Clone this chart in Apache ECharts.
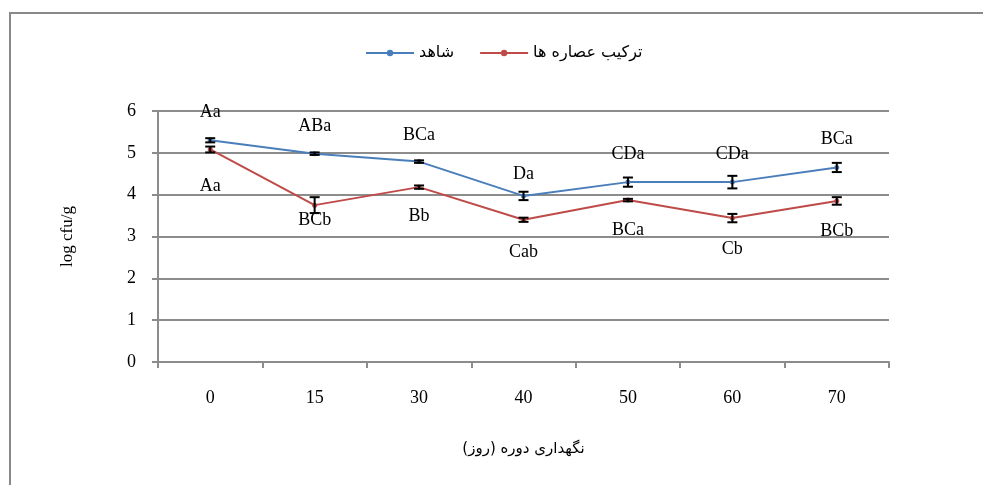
<!DOCTYPE html>
<html>
<head>
<meta charset="utf-8">
<script src="https://cdn.jsdelivr.net/npm/echarts@6/dist/echarts.min.js"></script>
<style>
    html, body { margin: 0; padding: 0; background: #fff; }
    #chart { width: 983px; height: 485px; }
</style>
</head>
<body>
<div id="chart"></div>
<script>
// data
const days = ['0', '15', '30', '40', '50', '60', '70'];
const controlName = 'شاهد';
const extractName = 'ترکیب عصاره ها';
const controlValues = [5.3, 4.98, 4.79, 3.97, 4.3, 4.3, 4.65];
const controlErrors = [0.05, 0.03, 0.03, 0.1, 0.11, 0.15, 0.11];
const controlLetters = ['Aa', 'ABa', 'BCa', 'Da', 'CDa', 'CDa', 'BCa'];
const extractValues = [5.08, 3.75, 4.18, 3.4, 3.87, 3.44, 3.85];
const extractErrors = [0.07, 0.19, 0.04, 0.05, 0.03, 0.1, 0.09];
const extractLetters = ['Aa', 'BCb', 'Bb', 'Cab', 'BCa', 'Cb', 'BCb'];
const yTicks = [0, 1, 2, 3, 4, 5, 6];

// label distances (style only)
const controlLabelGap = [17, 16, 15, 10, 16, 16, 17];
const extractLabelGap = [25, 4, 18, 21, 19, 20, 19];

const serif = '"Liberation Serif", "DejaVu Serif", serif';
const sans = '"DejaVu Sans", "Noto Sans", sans-serif';
const gridColor = '#8c8c8c';

const lineData = (values, letters, gaps, pos) =>
    values.map((v, i) => ({
        value: v,
        label: { show: true, formatter: letters[i], position: pos, distance: gaps[i] },
    }));

const errorSeries = (values, errors) => ({
    type: 'custom',
    silent: true,
    z: 5,
    data: values.map((v, i) => [i, v - errors[i], v + errors[i]]),
    renderItem: (params, api) => {
        const lo = api.coord([api.value(0), api.value(1)]);
        const hi = api.coord([api.value(0), api.value(2)]);
        const w = 5;
        const style = { stroke: '#000', lineWidth: 2 };
        return {
            type: 'group',
            children: [
                { type: 'line', shape: { x1: lo[0], y1: lo[1], x2: hi[0], y2: hi[1] }, style },
                { type: 'line', shape: { x1: lo[0] - w, y1: lo[1], x2: lo[0] + w, y2: lo[1] }, style },
                { type: 'line', shape: { x1: hi[0] - w, y1: hi[1], x2: hi[0] + w, y2: hi[1] }, style },
            ],
        };
    },
});

const myChart = echarts.init(document.getElementById('chart'));
myChart.setOption({
    animation: false,
    backgroundColor: '#fff',
    color: ['#4a7ebb', '#be4b48'],
    graphic: [
        {
            type: 'rect',
            shape: { x: 10, y: 13, width: 1100, height: 600 },
            style: { fill: 'none', stroke: '#888', lineWidth: 2 },
            silent: true,
        },
    ],
    legend: {
        data: [controlName, extractName],
        left: 360,
        top: 40,
        itemWidth: 48,
        itemHeight: 8,
        itemGap: 25,
        textStyle: { fontFamily: sans, fontSize: 16, color: '#000' },
    },
    grid: { left: 158, right: 94, top: 111, bottom: 123 },
    xAxis: {
        type: 'category',
        data: days,
        boundaryGap: true,
        // LRM marks keep the word order the way the original figure shows it
        name: '(روز)\u200E \u200Eدوره\u200E \u200Eنگهداری',
        nameLocation: 'middle',
        nameGap: 80,
        nameTextStyle: { fontFamily: sans, fontSize: 15, color: '#000' },
        axisLine: { lineStyle: { color: gridColor, width: 2 } },
        axisTick: { show: true, length: 6, lineStyle: { color: gridColor, width: 2 } },
        axisLabel: { fontFamily: serif, fontSize: 18, color: '#000', margin: 27 },
    },
    yAxis: {
        type: 'value',
        min: yTicks[0],
        max: yTicks[yTicks.length - 1],
        interval: 1,
        name: 'log cfu/g',
        nameLocation: 'middle',
        nameGap: 82,
        nameTextStyle: { fontFamily: serif, fontSize: 17, color: '#000' },
        axisLine: { show: true, lineStyle: { color: gridColor, width: 2 } },
        axisTick: { show: true, length: 6, lineStyle: { color: gridColor, width: 2 } },
        axisLabel: { fontFamily: serif, fontSize: 18, color: '#000', margin: 22 },
        splitLine: { lineStyle: { color: gridColor, width: 2 } },
    },
    series: [
        {
            name: controlName,
            type: 'line',
            data: lineData(controlValues, controlLetters, controlLabelGap, 'top'),
            symbol: 'circle',
            symbolSize: 5,
            lineStyle: { width: 2 },
            label: { fontFamily: serif, fontSize: 18, color: '#000' },
            z: 3,
        },
        {
            name: extractName,
            type: 'line',
            data: lineData(extractValues, extractLetters, extractLabelGap, 'bottom'),
            symbol: 'circle',
            symbolSize: 5,
            lineStyle: { width: 2 },
            label: { fontFamily: serif, fontSize: 18, color: '#000' },
            z: 3,
        },
        errorSeries(controlValues, controlErrors),
        errorSeries(extractValues, extractErrors),
    ],
});
window.addEventListener('resize', () => myChart.resize());
</script>
</body>
</html>
